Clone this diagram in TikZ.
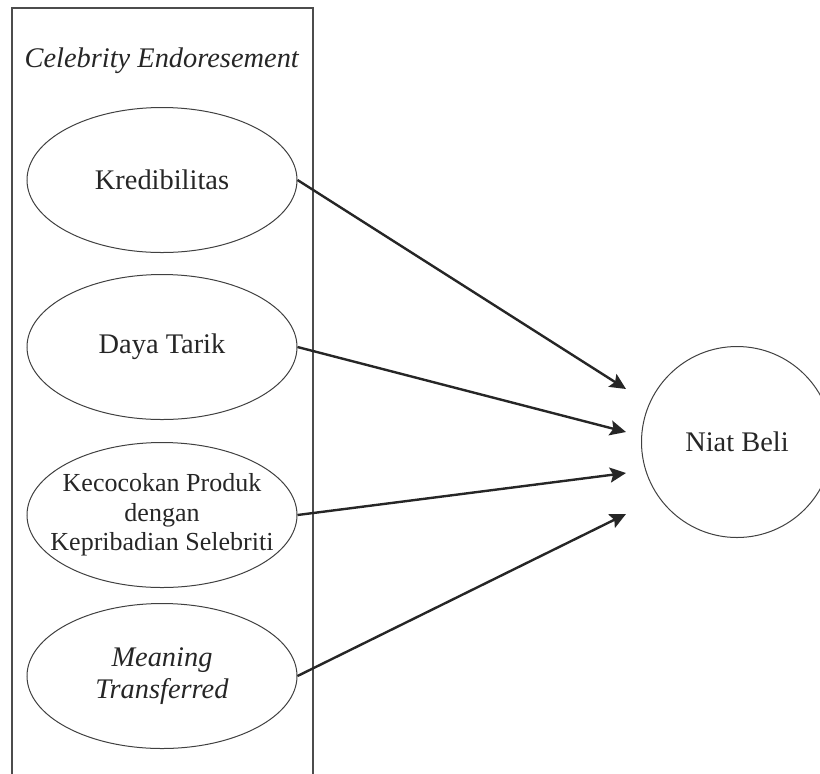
\documentclass[tikz,border=0pt]{standalone}
\usepackage{fontspec}
\setmainfont{Liberation Serif}
\usetikzlibrary{shapes.geometric,arrows.meta}
\tikzset{
	oval/.style={ellipse, draw=black!75, line width=0.5pt, minimum width=135pt, minimum height=72.5pt, inner xsep=-22pt, inner ysep=0pt, align=center},
	konstruk/.style={circle, draw=black!75, line width=0.5pt, minimum size=95.5pt, inner sep=0pt},
	panah/.style={-{Stealth[length=8pt,width=7.5pt,inset=1.5pt]}, line width=1.2pt, draw=black!85},
}
\begin{document}
\begin{tikzpicture}[x=0.5pt,y=-0.5pt,font=\fontsize{14.2}{15}\selectfont,text=black!85]
		\useasboundingbox (0,0) rectangle (820,773);
		\clip (0,0) rectangle (820,773);
		% frame of the construct
			\draw [black!70, line width=0.7pt] (12,790) -- (12,8) -- (313,8) -- (313,790);
			\node (judul) at (162,61) {\textit{Celebrity Endoresement}};
		% dimensions
			\node [oval] (kred) at (162,180) {Kredibilitas};
			\node [oval] (daya) at (162,347) {Daya Tarik};
			\node [oval, font=\fontsize{13}{14.75}\selectfont] (cocok) at (162,515) {Kecocokan Produk\\dengan\\Kepribadian Selebriti};
			\node [oval, font=\fontsize{14.2}{16}\selectfont] (makna) at (162,676) {\textit{Meaning}\\\textit{Transferred}};
		% dependent variable
			\node [konstruk] (niat) at (737,442) {Niat Beli};
		% arrow ends (they stop short of the circle)
			\coordinate (u1) at (626,389);
			\coordinate (u2) at (626,432);
			\coordinate (u3) at (626,473);
			\coordinate (u4) at (626,514);
		% arrows
			\draw [panah] (kred.east) -- (u1);
			\draw [panah] (daya.east) -- (u2);
			\draw [panah] (cocok.east) -- (u3);
			\draw [panah] (makna.east) -- (u4);
	\end{tikzpicture}
\end{document}
